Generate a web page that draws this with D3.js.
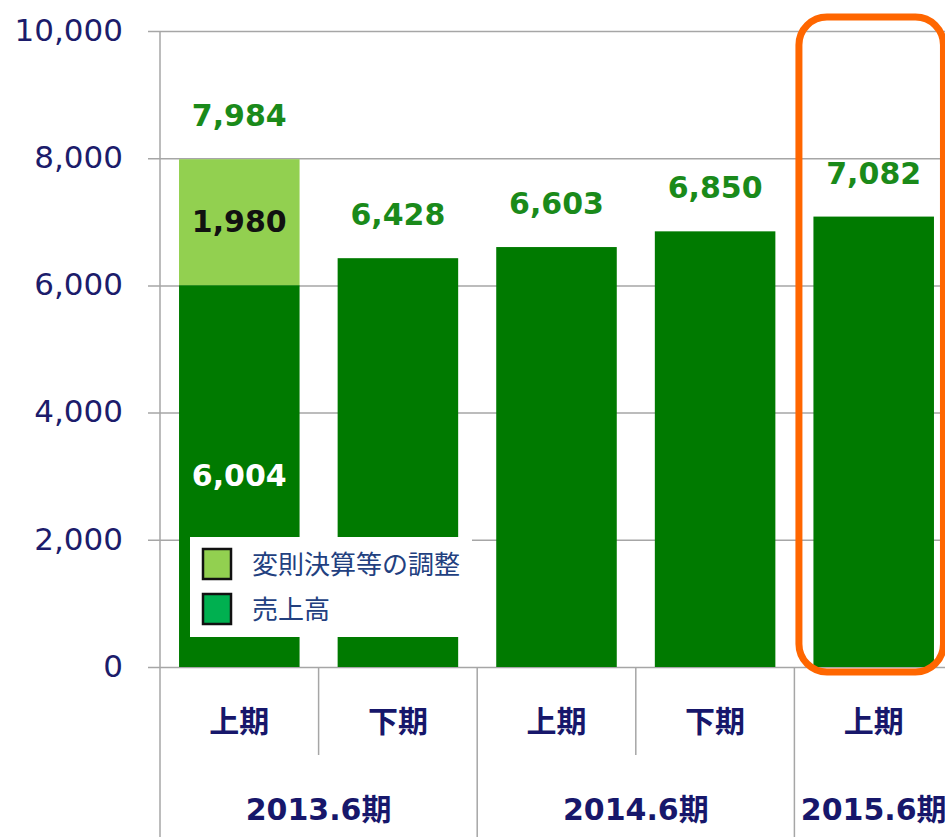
<!DOCTYPE html>
<html>
<head>
<meta charset="utf-8">
<script src="https://cdn.jsdelivr.net/npm/d3@7"></script>
<style>
  body { margin: 0; background: #fff; }
</style>
</head>
<body>
<svg></svg>
<script>
    // data
    periods = ["上期","下期","上期","下期","上期"];
    yearNames = ["2013.6期","2014.6期","2015.6期"];
    yearOf = [0,0,1,1,2];
    sales = [6004,6428,6603,6850,7082];
    adjust = [1980,0,0,0,0];
    yTicks = [0,2000,4000,6000,8000,10000];
    legendNames = ["変則決算等の調整","売上高"];

    svg = d3.select("svg").attr("width",945).attr("height",837);

    xs = d3.scaleBand().domain(d3.range(5)).range([160,953]).paddingInner(0.24).paddingOuter(0.12);
    ys = d3.scaleLinear().domain([0,10000]).range([667,31]);
    step = xs.step();
    x0 = xs.range()[0];

    //gridlines
    svg.append("g")
    .attr("transform","translate(148,0)")
    .call(d3.axisLeft(ys).tickValues(yTicks).tickSize(-800).tickFormat(""))
    .call(g => g.select(".domain").remove())
    .selectAll("line").attr("stroke","#a6a6a6").attr("stroke-width",1.5);

    //y labels
    svg.append("g")
    .attr("transform","translate(160,0)")
    .call(d3.axisLeft(ys).tickValues(yTicks).tickSize(0).tickPadding(37).tickFormat(d3.format(",")))
    .call(g => g.select(".domain").remove())
    .selectAll("text")
    .attr("font-size",31)
    .attr("font-family","DejaVu Sans, Verdana, sans-serif")
    .attr("fill","#1c1c6b")
    .attr("dy","0.3em");

    //left axis line and category dividers
    svg.append("line").attr("x1",x0).attr("x2",x0).attr("y1",ys(10000)).attr("y2",837)
    .attr("stroke","#a6a6a6").attr("stroke-width",1.5);
    svg.append("g").selectAll("line").data(d3.range(1,6)).enter().append("line")
    .attr("x1",d => x0 + d*step).attr("x2",d => x0 + d*step)
    .attr("y1",ys(0))
    .attr("y2",d => (d < 5 && yearOf[d] != yearOf[d-1]) ? 837 : 755)
    .attr("stroke","#a6a6a6").attr("stroke-width",1.5);

    //bars
    svg.append("g").selectAll("rect").data(sales).enter().append("rect")
    .attr("x",(d,i) => xs(i)).attr("width",xs.bandwidth())
    .attr("y",d => ys(d)).attr("height",d => ys(0)-ys(d))
    .attr("fill","#007a00");
    svg.append("g").selectAll("rect").data(adjust).enter().append("rect")
    .attr("x",(d,i) => xs(i)).attr("width",xs.bandwidth())
    .attr("y",(d,i) => ys(sales[i]+d)).attr("height",(d,i) => ys(sales[i])-ys(sales[i]+d))
    .attr("fill","#92d050");

    fmt = d3.format(",");
    //total labels
    svg.append("g").selectAll("text").data(sales).enter().append("text")
    .attr("x",(d,i) => xs(i)+xs.bandwidth()/2)
    .attr("y",(d,i) => ys(d+adjust[i]) - 33)
    .attr("text-anchor","middle")
    .attr("font-size",30).attr("font-weight","bold")
    .attr("font-family","DejaVu Sans, Verdana, sans-serif")
    .attr("fill","#1a8a1a")
    .text((d,i) => fmt(d+adjust[i]));

    //inner labels for the stacked bar
    svg.append("g").selectAll("text").data(adjust).enter().filter(d => d > 0).append("text")
    .attr("x",(d,i) => xs(i)+xs.bandwidth()/2)
    .attr("y",(d,i) => (ys(sales[i]) + ys(sales[i]+d))/2 + 10)
    .attr("text-anchor","middle")
    .attr("font-size",30).attr("font-weight","bold")
    .attr("font-family","DejaVu Sans, Verdana, sans-serif")
    .attr("fill","#111")
    .text(d => fmt(d));
    svg.append("g").selectAll("text").data(adjust).enter().filter(d => d > 0).append("text")
    .attr("x",(d,i) => xs(i)+xs.bandwidth()/2)
    .attr("y",(d,i) => ys(sales[i]/2) + 10)
    .attr("text-anchor","middle")
    .attr("font-size",30).attr("font-weight","bold")
    .attr("font-family","DejaVu Sans, Verdana, sans-serif")
    .attr("fill","#fff")
    .text((d,i) => fmt(sales[i]));

    //period labels
    svg.append("g").selectAll("text").data(periods).enter().append("text")
    .attr("x",(d,i) => xs(i)+xs.bandwidth()/2)
    .attr("y",732)
    .attr("text-anchor","middle")
    .attr("font-size",30).attr("font-weight","bold")
    .attr("font-family","Noto Sans CJK JP, sans-serif")
    .attr("fill","#17176b")
    .text(d => d);

    //year labels
    svg.append("g").selectAll("text").data(yearNames).enter().append("text")
    .attr("x",(d,j) => d3.mean(d3.range(5).filter(i => yearOf[i]==j), i => xs(i)+xs.bandwidth()/2))
    .attr("y",820)
    .attr("text-anchor","middle")
    .attr("font-size",30).attr("font-weight","bold")
    .attr("font-family","DejaVu Sans, Noto Sans CJK JP, sans-serif")
    .attr("fill","#17176b")
    .text(d => d);

    //legend
    lg = svg.append("g");
    lg.append("rect").attr("x",190).attr("y",537).attr("width",282).attr("height",100).attr("fill","#fff");
    lg.selectAll("rect.sw").data(["#92d050","#00b050"]).enter().append("rect")
    .attr("class","sw")
    .attr("x",203).attr("y",(d,i) => 549 + i*45)
    .attr("width",28).attr("height",30)
    .attr("fill",d => d).attr("stroke","#111").attr("stroke-width",2.5);
    lg.selectAll("text").data(legendNames).enter().append("text")
    .attr("x",252).attr("y",(d,i) => 574 + i*45)
    .attr("font-size",26)
    .attr("font-family","Noto Sans CJK JP, sans-serif")
    .attr("fill","#22407f")
    .text(d => d);

    //highlight frame round the last bar
    svg.append("rect")
    .attr("x",xs(4)-14.5).attr("y",17)
    .attr("width",xs.bandwidth()+24).attr("height",ys(0)+5-17)
    .attr("rx",28).attr("ry",28)
    .attr("fill","none").attr("stroke","#ff6600").attr("stroke-width",7);
</script>
</body>
</html>
